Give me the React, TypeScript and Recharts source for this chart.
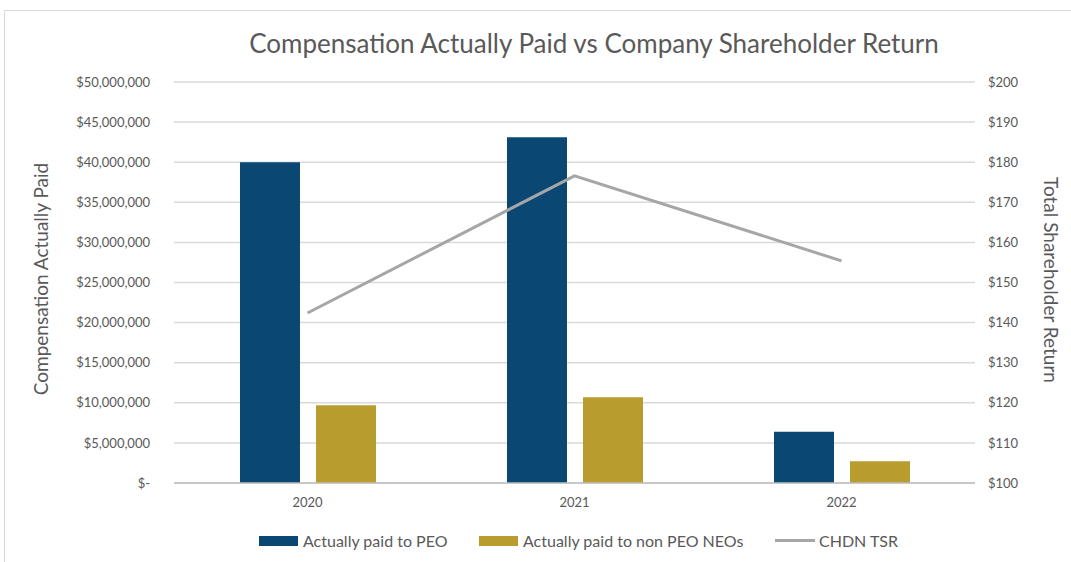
import {
  Bar,
  CartesianGrid,
  ComposedChart,
  Line,
  XAxis,
  YAxis,
} from "recharts";

const years = ["2020", "2021", "2022"];
const paidToPeo = [40000000, 43100000, 6400000];
const paidToNonPeo = [9700000, 10700000, 2700000];
const chdnTsr = [142.4, 176.6, 155.4];

const leftTicks = [0, 5000000, 10000000, 15000000, 20000000, 25000000, 30000000, 35000000, 40000000, 45000000, 50000000];
const rightTicks = [100, 110, 120, 130, 140, 150, 160, 170, 180, 190, 200];
const boundaryTicks = [0, 1, 2, 3];

const PEO_COLOR = "#0a4772";
const NEO_COLOR = "#b89d2e";
const TSR_COLOR = "#a6a6a6";
const TEXT = "#595959";
const FONT = "Lato, 'Liberation Sans', sans-serif";

const data = years.map((year, i) => ({
  year,
  peo: paidToPeo[i],
  neo: paidToNonPeo[i],
  tsr: chdnTsr[i],
}));

const fmtMoney = (v: number) => (v === 0 ? "$-" : "$" + v.toLocaleString("en-US"));

function LegendItem({ left, label, color, line }: { left: number; label: string; color: string; line?: boolean }) {
  return (
    <div
      style={{
        position: "absolute",
        top: 531,
        left,
        display: "flex",
        alignItems: "center",
        fontSize: 16,
        color: TEXT,
        whiteSpace: "nowrap",
      }}
    >
      <span style={{ width: line ? 40 : 39, height: line ? 3 : 10, background: color, marginRight: line ? 4 : 5 }} />
      <span>{label}</span>
    </div>
  );
}

export default function App() {
  const tickStyle = { fill: TEXT, fontSize: 13, fontFamily: FONT };

  return (
    <div
      style={{
        position: "absolute",
        left: 0,
        top: 0,
        width: 1071,
        height: 562,
        background: "#fff",
        fontFamily: FONT,
      }}
    >
      <div
        style={{
          position: "absolute",
          left: 4,
          top: 10,
          right: -2,
          bottom: -2,
          border: "1px solid #d9d9d9",
        }}
      />
      <div
        style={{
          position: "absolute",
          top: 27,
          left: 0,
          width: 1188,
          textAlign: "center",
          fontSize: 26,
          color: TEXT,
        }}
      >
        Compensation Actually Paid vs Company Shareholder Return
      </div>

      <div style={{ position: "absolute", left: 0, top: 0 }}>
        <ComposedChart
          width={1071}
          height={562}
          data={data}
          margin={{ top: 82, right: 36, bottom: 49, left: 0 }}
          barGap={16}
        >
          <CartesianGrid yAxisId="left" vertical={false} stroke="#d9d9d9" strokeWidth={1.5} />
          <XAxis
            xAxisId="edge"
            type="number"
            domain={[0, 3]}
            ticks={boundaryTicks}
            height={0}
            tick={false}
            axisLine={false}
            tickLine={{ stroke: "#bfbfbf" }}
            tickSize={6}
          />
          <XAxis
            dataKey="year"
            xAxisId="cat"
            height={30}
            tickLine={false}
            axisLine={{ stroke: "#bfbfbf", strokeWidth: 1.5 }}
            tick={tickStyle}
            tickMargin={9}
          />
          <YAxis
            yAxisId="left"
            width={174}
            domain={[0, 50000000]}
            ticks={leftTicks}
            tickFormatter={fmtMoney}
            tick={tickStyle}
            tickLine={false}
            axisLine={false}
            tickSize={0}
            tickMargin={24}
            interval={0}
          />
          <YAxis
            yAxisId="right"
            orientation="right"
            width={60}
            domain={[100, 200]}
            ticks={rightTicks}
            tickFormatter={(v: number) => "$" + v}
            tick={{ ...tickStyle, textAnchor: "start" }}
            tickLine={false}
            axisLine={false}
            tickSize={0}
            tickMargin={13}
            interval={0}
          />
          <Bar
            xAxisId="cat"
            yAxisId="left"
            dataKey="peo"
            name="Actually paid to PEO"
            fill={PEO_COLOR}
            barSize={60}
            isAnimationActive={false}
          />
          <Bar
            xAxisId="cat"
            yAxisId="left"
            dataKey="neo"
            name="Actually paid to non PEO NEOs"
            fill={NEO_COLOR}
            barSize={60}
            isAnimationActive={false}
          />
          <Line
            xAxisId="cat"
            yAxisId="right"
            dataKey="tsr"
            name="CHDN TSR"
            stroke={TSR_COLOR}
            strokeWidth={3}
            dot={false}
            activeDot={false}
            isAnimationActive={false}
          />
        </ComposedChart>
      </div>

      <div
        style={{
          position: "absolute",
          left: 40,
          top: 279,
          transform: "translate(-50%, -50%) rotate(-90deg)",
          whiteSpace: "nowrap",
          fontSize: 19,
          color: TEXT,
        }}
      >
        Compensation Actually Paid
      </div>
      <div
        style={{
          position: "absolute",
          left: 1051,
          top: 280,
          transform: "translate(-50%, -50%) rotate(90deg)",
          whiteSpace: "nowrap",
          fontSize: 19,
          color: TEXT,
        }}
      >
        Total Shareholder Return
      </div>

      <LegendItem left={259} label="Actually paid to PEO" color={PEO_COLOR} />
      <LegendItem left={479} label="Actually paid to non PEO NEOs" color={NEO_COLOR} />
      <LegendItem left={775} label="CHDN TSR" color={TSR_COLOR} line />
    </div>
  );
}
